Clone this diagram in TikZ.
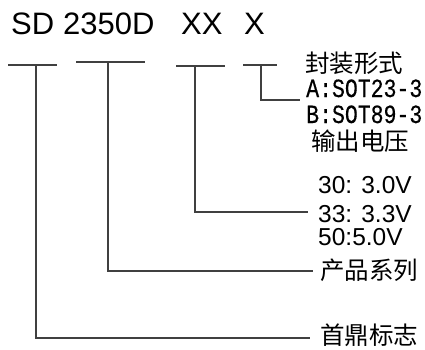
\documentclass[tikz,border=0pt]{standalone}
\usepackage{fontspec}
\setmainfont{Liberation Sans}
\newfontfamily\cjk{Noto Sans CJK SC}
\newfontfamily\monof[FakeBold=0.5]{Liberation Mono}
\newcommand{\tallmono}[1]{\scalebox{1}[1.22]{#1}}
\begin{document}
\begin{tikzpicture}[x=1pt,y=-1pt,
  conn/.style={draw=black!75,line width=2.3pt},
  toptxt/.style={anchor=base west,inner sep=0pt,font=\fontsize{31}{31}\selectfont},
  cjklbl/.style={anchor=base west,inner sep=0pt,font=\cjk\fontsize{24.5}{25}\selectfont},
  monolbl/.style={anchor=base west,inner sep=0pt,font=\monof\fontsize{21.5}{22}\selectfont},
  numlbl/.style={anchor=base west,inner sep=0pt,font=\fontsize{24.5}{25}\selectfont}]
\useasboundingbox (0,0) rectangle (425,349);
% top code
\node[toptxt] (sd) at (11,34) {SD};
\node[toptxt] (pn) at (63,34) {2350D};
\node[toptxt] (xx) at (181,34) {XX};
\node[toptxt] (x) at (244,34) {X};
% labels
\node[cjklbl] (pkg) at (305,72) {封装形式};
\node[monolbl] (pa) at (306,97) {\tallmono{A:SOT23-3}};
\node[monolbl] (pb) at (306,123) {\tallmono{B:SOT89-3}};
\node[cjklbl] (vo) at (311,150) {输出电压};
\node[numlbl] (v30) at (318,193) {30: 3.0V};
\node[numlbl] (v33) at (318,222) {33: 3.3V};
\node[numlbl] (v50) at (318,245) {50:5.0V};
\node[cjklbl] (ser) at (320,279) {产品系列};
\node[cjklbl] (brand) at (320,344) {首鼎标志};
% bars
\coordinate (b1l) at (8,65);   \coordinate (b1r) at (57,65);  \coordinate (b1m) at (36,65);
\coordinate (b2l) at (76,62);  \coordinate (b2r) at (145,62); \coordinate (b2m) at (108,62);
\coordinate (b3l) at (176,66); \coordinate (b3r) at (225,66); \coordinate (b3m) at (195,66);
\coordinate (b4l) at (243,65); \coordinate (b4r) at (277,65); \coordinate (b4m) at (261,65);
% connector ends
\coordinate (e1) at (310,338);
\coordinate (e2) at (313,271);
\coordinate (e3) at (308,212);
\coordinate (e4) at (300,100);
\draw[conn] (b1l) -- (b1r);
\draw[conn] (b2l) -- (b2r);
\draw[conn] (b3l) -- (b3r);
\draw[conn] (b4l) -- (b4r);
\draw[conn] (b1m) |- (e1);
\draw[conn] (b2m) |- (e2);
\draw[conn] (b3m) |- (e3);
\draw[conn] (b4m) |- (e4);
\end{tikzpicture}
\end{document}
